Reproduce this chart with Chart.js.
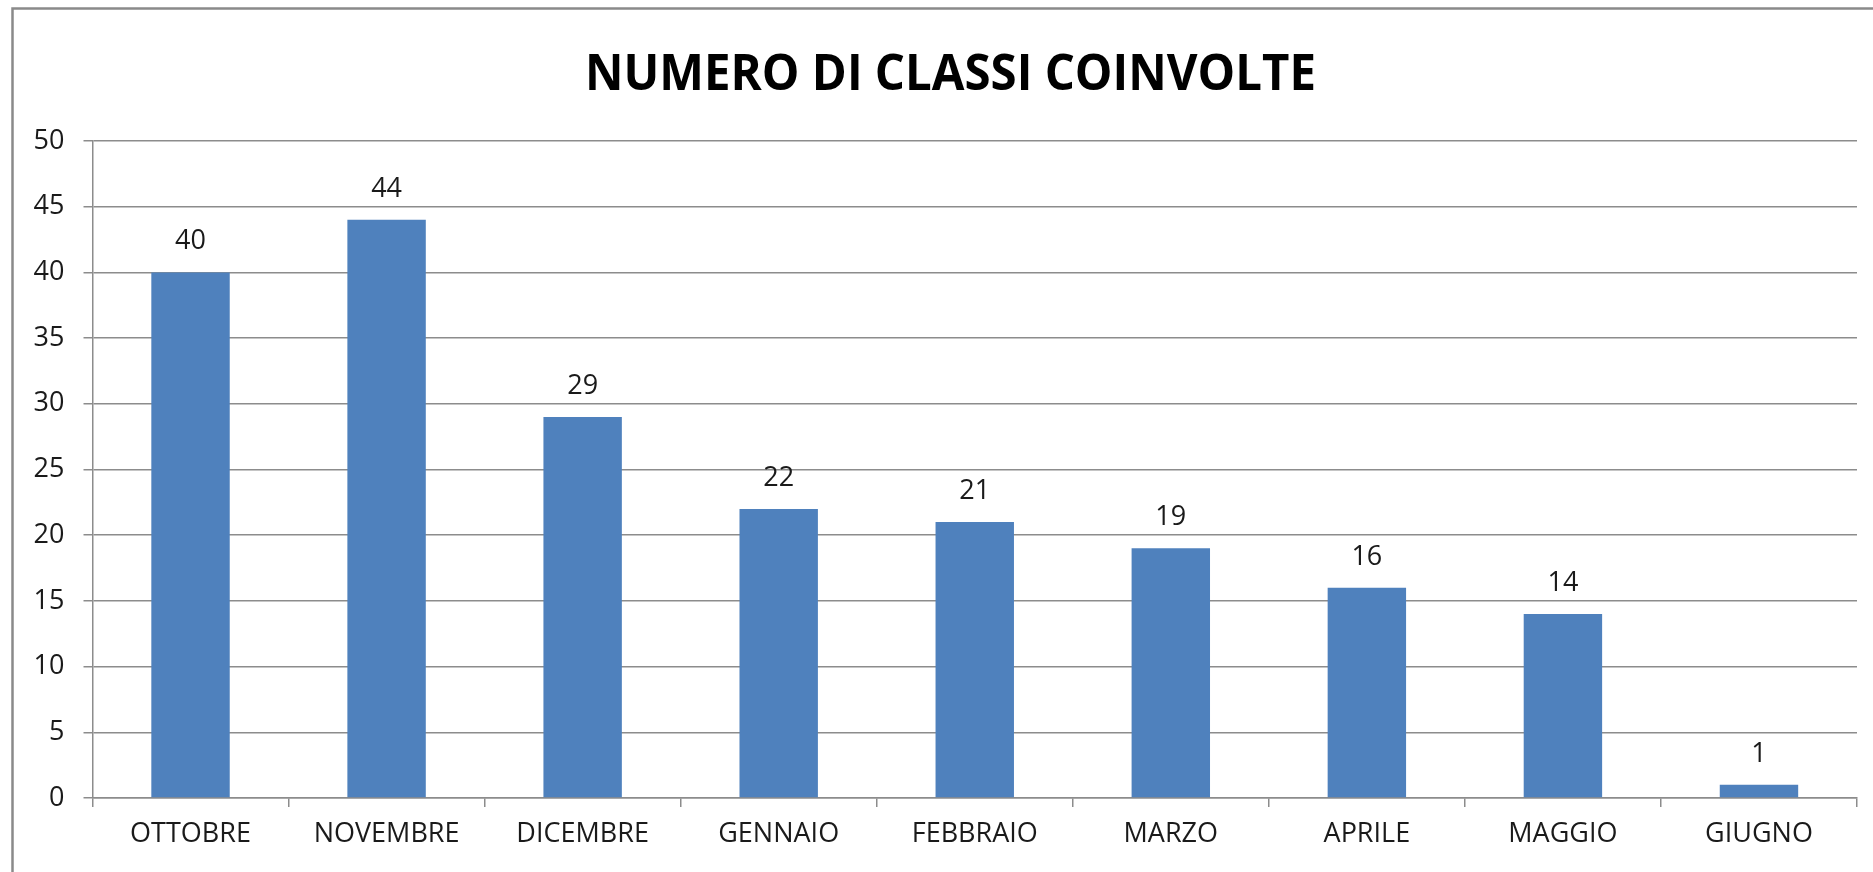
<!DOCTYPE html>
<html>
<head>
<meta charset="utf-8">
<script src="https://cdn.jsdelivr.net/npm/chart.js@4.4.0/dist/chart.umd.min.js"></script>
<style>
  html, body { margin: 0; padding: 0; background: #fff; }
  #wrap { width: 1873px; height: 872px; position: relative; }
</style>
</head>
<body>
<div id="wrap"><canvas id="c" width="1873" height="872"></canvas></div>
<script>
const chartTitle = 'NUMERO DI CLASSI COINVOLTE';
const categories = ['OTTOBRE', 'NOVEMBRE', 'DICEMBRE', 'GENNAIO', 'FEBBRAIO', 'MARZO', 'APRILE', 'MAGGIO', 'GIUGNO'];
const values = [40, 44, 29, 22, 21, 19, 16, 14, 1];
const yMin = 0, yMax = 50, yStep = 5;

const FONT = '"Open Sans", "DejaVu Sans", sans-serif';
const TEXT = '#1a1a1a';
const GRID = '#8c8c8c';

const framePlugin = {
  id: 'frame',
  beforeDraw(chart) {
    const ctx = chart.ctx;
    ctx.save();
    ctx.fillStyle = '#fff';
    ctx.fillRect(0, 0, chart.width, chart.height);
    ctx.strokeStyle = '#8a8a8a';
    ctx.lineWidth = 2.5;
    ctx.strokeRect(12.5, 8.5, chart.width + 20, chart.height + 20);
    ctx.restore();
  },
  afterDraw(chart) {
    const ctx = chart.ctx;
    ctx.save();
    ctx.font = 'bold 50px ' + FONT;
    ctx.fillStyle = '#000';
    ctx.textBaseline = 'alphabetic';
    ctx.textAlign = 'left';
    const w = ctx.measureText(chartTitle).width;
    const target = 731;
    const sx = target / w;
    ctx.translate(585, 90);
    ctx.scale(sx, 1);
    ctx.fillText(chartTitle, 0, 0);
    ctx.restore();

    ctx.save();
    ctx.font = '27px ' + FONT;
    ctx.fillStyle = TEXT;
    ctx.textAlign = 'center';
    ctx.textBaseline = 'alphabetic';
    const meta = chart.getDatasetMeta(0);
    meta.data.forEach((bar, i) => {
      ctx.fillText(String(values[i]), bar.x, bar.y - 23);
    });
    ctx.restore();
  }
};

new Chart(document.getElementById('c'), {
  type: 'bar',
  data: {
    labels: categories,
    datasets: [{
      data: values,
      backgroundColor: '#4F81BD',
      borderWidth: 0,
      barPercentage: 0.4,
      categoryPercentage: 1.0
    }]
  },
  options: {
    responsive: false,
    animation: false,
    events: [],
    layout: { padding: { left: 0, right: 16, top: 141, bottom: 0 } },
    plugins: {
      legend: { display: false },
      title: { display: false },
      tooltip: { enabled: false }
    },
    scales: {
      x: {
        grid: {
          display: true,
          drawOnChartArea: false,
          drawTicks: true,
          tickLength: 9,
          color: GRID,
          offset: true,
          lineWidth: 1.5
        },
        border: { display: true, color: GRID, width: 1.5 },
        ticks: {
          color: TEXT,
          font: { family: FONT, size: 27 },
          padding: 11,
          maxRotation: 0,
          autoSkip: false
        },
        afterFit(scale) { scale.height = 74; }
      },
      y: {
        min: yMin,
        max: yMax,
        grid: {
          color: GRID,
          lineWidth: 1.5,
          tickLength: 9,
          drawTicks: true
        },
        border: { display: true, color: GRID, width: 1.5 },
        ticks: {
          stepSize: yStep,
          color: TEXT,
          font: { family: FONT, size: 27 },
          padding: 19
        },
        afterFit(scale) { scale.width = 92.5; }
      }
    }
  },
  plugins: [framePlugin]
});
</script>
</body>
</html>
